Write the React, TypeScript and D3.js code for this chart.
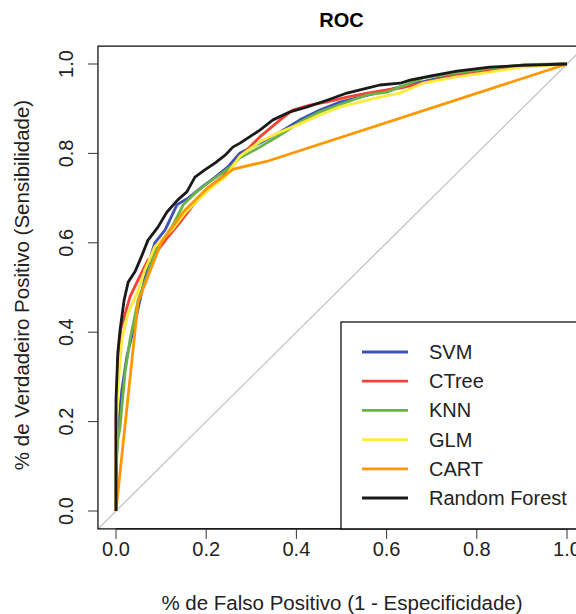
import React from "react";
import * as d3 from "d3";

const seriesNames = ["SVM", "CTree", "KNN", "GLM", "CART", "Random Forest"];
const seriesColors = ["#3f51b5", "#f44336", "#6ab446", "#ffeb3b", "#ff9800", "#1a1a1a"];

const svmFpr = [0, 0, 0.002, 0.004, 0.013, 0.024, 0.042, 0.058, 0.071, 0.086, 0.109, 0.135, 0.16, 0.191, 0.22, 0.248, 0.275, 0.319, 0.364, 0.408, 0.452, 0.497, 0.541, 0.585, 0.63, 0.696, 0.763, 0.829, 0.902, 1];
const svmTpr = [0, 0.07, 0.159, 0.174, 0.271, 0.345, 0.421, 0.494, 0.55, 0.6, 0.629, 0.685, 0.7, 0.725, 0.747, 0.77, 0.801, 0.823, 0.848, 0.875, 0.897, 0.915, 0.926, 0.937, 0.949, 0.964, 0.978, 0.989, 0.997, 1];

const ctreeFpr = [0, 0, 0.004, 0.011, 0.031, 0.049, 0.071, 0.08, 0.115, 0.146, 0.175, 0.204, 0.235, 0.275, 0.319, 0.364, 0.392, 0.43, 0.468, 0.512, 0.557, 0.601, 0.63, 0.756, 0.829, 0.902, 1];
const ctreeTpr = [0, 0.204, 0.338, 0.409, 0.479, 0.517, 0.562, 0.566, 0.613, 0.651, 0.689, 0.723, 0.747, 0.792, 0.837, 0.875, 0.897, 0.908, 0.915, 0.926, 0.935, 0.942, 0.946, 0.975, 0.987, 0.998, 1];

const knnFpr = [0, 0, 0.004, 0.009, 0.02, 0.031, 0.049, 0.071, 0.086, 0.124, 0.149, 0.175, 0.204, 0.235, 0.259, 0.275, 0.319, 0.364, 0.408, 0.452, 0.512, 0.557, 0.601, 0.681, 0.756, 0.829, 0.918, 1];
const knnTpr = [0, 0.092, 0.159, 0.188, 0.309, 0.383, 0.472, 0.532, 0.584, 0.635, 0.685, 0.711, 0.734, 0.756, 0.774, 0.79, 0.814, 0.841, 0.87, 0.893, 0.915, 0.931, 0.937, 0.969, 0.98, 0.991, 0.999, 1];

const glmFpr = [0, 0, 0.002, 0.004, 0.013, 0.027, 0.047, 0.064, 0.086, 0.124, 0.153, 0.182, 0.213, 0.242, 0.275, 0.319, 0.364, 0.408, 0.452, 0.497, 0.541, 0.585, 0.63, 0.681, 0.756, 0.829, 0.902, 1];
const glmTpr = [0, 0.085, 0.204, 0.271, 0.383, 0.443, 0.488, 0.539, 0.591, 0.629, 0.667, 0.696, 0.725, 0.747, 0.794, 0.826, 0.848, 0.866, 0.886, 0.904, 0.915, 0.926, 0.935, 0.957, 0.971, 0.982, 0.993, 1];

const cartFpr = [0, 0.049, 0.1, 0.15, 0.2, 0.26, 0.337, 1];
const cartTpr = [0, 0.468, 0.6, 0.67, 0.72, 0.765, 0.783, 1];

const rfFpr = [0, 0, 0.004, 0.009, 0.018, 0.027, 0.042, 0.058, 0.071, 0.093, 0.113, 0.137, 0.157, 0.175, 0.197, 0.22, 0.242, 0.259, 0.275, 0.319, 0.348, 0.386, 0.424, 0.468, 0.512, 0.557, 0.585, 0.63, 0.652, 0.696, 0.756, 0.829, 0.902, 1];
const rfTpr = [0, 0.248, 0.353, 0.405, 0.472, 0.512, 0.535, 0.573, 0.606, 0.635, 0.669, 0.696, 0.714, 0.747, 0.763, 0.779, 0.796, 0.814, 0.823, 0.852, 0.875, 0.893, 0.904, 0.919, 0.935, 0.946, 0.953, 0.957, 0.964, 0.973, 0.984, 0.993, 0.997, 1];

const seriesFpr = [svmFpr, ctreeFpr, knnFpr, glmFpr, cartFpr, rfFpr];
const seriesTpr = [svmTpr, ctreeTpr, knnTpr, glmTpr, cartTpr, rfTpr];

const tickValues = [0, 0.2, 0.4, 0.6, 0.8, 1.0];

const W = 576;
const H = 614;
const FONT = "'Liberation Sans', Arial, Helvetica, sans-serif";

export default function App() {
  const x = d3.scaleLinear().domain([0, 1]).range([116, 567]);
  const y = d3.scaleLinear().domain([0, 1]).range([511, 64]);
  const x0 = x(-0.04), x1 = x(1.04), y0 = y(-0.04), y1 = y(1.04);
  const line = d3
    .line<[number, number]>()
    .x((d) => x(d[0]))
    .y((d) => y(d[1]));
  const fmt = d3.format(".1f");

  const legL = 341, legT = 322;
  const rowY = (i: number) => 352 + i * 29.2;

  return (
    <svg
      width={W}
      height={H}
      style={{ position: "absolute", left: 0, top: 0, background: "#fff" }}
      fontFamily={FONT}
    >
      <defs>
        <clipPath id="plotclip">
          <rect x={x0} y={y1} width={x1 - x0} height={y0 - y1} />
        </clipPath>
      </defs>
      <rect x={0} y={0} width={W} height={H} fill="#fff" />
      <text x={(x0 + x1) / 2} y={27} textAnchor="middle" fontSize={20} fontWeight="bold" fill="#000">
        ROC
      </text>
      <g clipPath="url(#plotclip)">
        <line x1={x(-0.04)} y1={y(-0.04)} x2={x(1.04)} y2={y(1.04)} stroke="#bebebe" strokeWidth={1.2} />
        {seriesNames.map((name, i) => (
          <path
            key={name}
            d={line(seriesFpr[i].map((v, j) => [v, seriesTpr[i][j]] as [number, number])) || ""}
            fill="none"
            stroke={seriesColors[i]}
            strokeWidth={2.8}
            strokeLinejoin="round"
          />
        ))}
      </g>
      <rect x={x0} y={y1} width={x1 - x0} height={y0 - y1} fill="none" stroke="#000" strokeWidth={1.2} />
      {/* x axis */}
      <line x1={x(0)} x2={x(1)} y1={y0} y2={y0} stroke="#000" strokeWidth={1} />
      {tickValues.map((t) => (
        <g key={"x" + t}>
          <line x1={x(t)} x2={x(t)} y1={y0} y2={y0 + 10} stroke="#333" strokeWidth={1} />
          <text x={x(t)} y={555.5} textAnchor="middle" fontSize={20} fill="#222">
            {fmt(t)}
          </text>
        </g>
      ))}
      {/* y axis */}
      {tickValues.map((t) => (
        <g key={"y" + t}>
          <line x1={x0} x2={x0 - 10} y1={y(t)} y2={y(t)} stroke="#333" strokeWidth={1} />
          <text
            transform={`translate(${73},${y(t)}) rotate(-90)`}
            textAnchor="middle"
            fontSize={20}
            fill="#222"
          >
            {fmt(t)}
          </text>
        </g>
      ))}
      <text x={342} y={610} textAnchor="middle" fontSize={20.5} fill="#222">
        % de Falso Positivo (1 - Especificidade)
      </text>
      <text
        transform={`translate(${29},${285}) rotate(-90)`}
        textAnchor="middle"
        fontSize={20.5}
        fill="#222"
      >
        % de Verdadeiro Positivo (Sensibilidade)
      </text>
      {/* legend */}
      <rect x={legL} y={legT} width={x1 - legL} height={y0 - legT} fill="#fff" stroke="#000" strokeWidth={1.2} />
      {seriesNames.map((name, i) => (
        <g key={"leg" + name}>
          <line x1={362} x2={408} y1={rowY(i)} y2={rowY(i)} stroke={seriesColors[i]} strokeWidth={2.8} />
          <text x={429} y={rowY(i) + 7} fontSize={20} fill="#222">
            {name}
          </text>
        </g>
      ))}
    </svg>
  );
}
